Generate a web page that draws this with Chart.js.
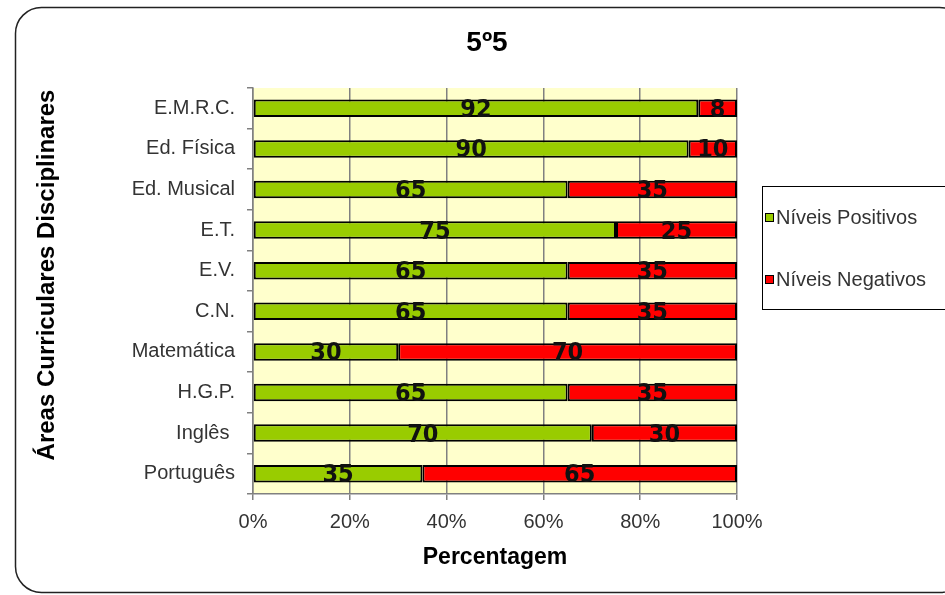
<!DOCTYPE html>
<html>
<head>
<meta charset="utf-8">
<script src="https://cdn.jsdelivr.net/npm/chart.js@4.4.1/dist/chart.umd.min.js"></script>
<style>
  html, body { margin: 0; padding: 0; background: #fff; }
  #wrap { width: 945px; height: 595px; }
</style>
</head>
<body>
<div id="wrap"><canvas id="chart" width="945" height="595"></canvas></div>
<script>
// data
var subjects = ['E.M.R.C.', 'Ed. Física', 'Ed. Musical', 'E.T.', 'E.V.', 'C.N.',
                'Matemática', 'H.G.P.', 'Inglês ', 'Português'];
var positivos = [92, 90, 65, 75, 65, 65, 30, 65, 70, 35];
var negativos = [8, 10, 35, 25, 35, 35, 70, 35, 30, 65];
var xTicks = [0, 20, 40, 60, 80, 100];

var chartTitle = '5º5';
var yTitle = 'Áreas Curriculares Disciplinares';
var xTitle = 'Percentagem';

var FONT = '"Liberation Sans", Arial, sans-serif';

// frame, plot background, titles, legend and value labels
var decor = {
  id: 'decor',
  beforeDraw: function (chart) {
    var ctx = chart.ctx, a = chart.chartArea;
    ctx.save();
    ctx.fillStyle = '#ffffff';
    ctx.fillRect(0, 0, chart.width, chart.height);
    ctx.beginPath();
    ctx.roundRect(15.5, 7.5, 950, 585, 26);
    ctx.lineWidth = 1.5;
    ctx.strokeStyle = '#222';
    ctx.stroke();
    ctx.fillStyle = '#FFFFCC';
    ctx.fillRect(a.left, a.top, a.right - a.left, a.bottom - a.top);
    ctx.restore();
  },
  afterDraw: function (chart) {
    var ctx = chart.ctx;
    ctx.save();
    // title
    ctx.fillStyle = '#000';
    ctx.font = 'bold 28px ' + FONT;
    ctx.textAlign = 'center';
    ctx.textBaseline = 'middle';
    ctx.fillText(chartTitle, 487, 43);
    // y axis title
    ctx.save();
    ctx.translate(47, 275);
    ctx.rotate(-Math.PI / 2);
    ctx.font = 'bold 24px ' + FONT;
    ctx.fillText(yTitle, 0, 0);
    ctx.restore();

    // legend
    ctx.lineWidth = 1;
    ctx.strokeStyle = '#000';
    ctx.strokeRect(762.5, 186.5, 185, 123);
    var ys = [217, 279];
    chart.data.datasets.forEach(function (ds, i) {
      ctx.fillStyle = ds.backgroundColor;
      ctx.fillRect(765, ys[i] - 4, 9, 9);
      ctx.strokeRect(765.5, ys[i] - 3.5, 8, 8);
      ctx.fillStyle = '#333';
      ctx.font = '20px ' + FONT;
      ctx.textAlign = 'left';
      ctx.fillText(ds.label, 776, ys[i] + 1);
    });

    // value labels, centred on each segment
    ctx.font = 'bold 25px "DejaVu Sans Condensed", "Liberation Sans Narrow", ' + FONT;
    ctx.textAlign = 'center';
    ctx.textBaseline = 'middle';
    ctx.fillStyle = '#111';
    chart.data.datasets.forEach(function (ds, i) {
      chart.getDatasetMeta(i).data.forEach(function (bar, j) {
        var cx = (bar.x + bar.base) / 2;
        ctx.fillText(String(ds.data[j]), cx, bar.y + 2);
      });
    });
    ctx.restore();
  }
};

new Chart(document.getElementById('chart'), {
  type: 'bar',
  data: {
    labels: subjects,
    datasets: [
      { label: 'Níveis Positivos', data: positivos, backgroundColor: '#99CC00',
        borderColor: '#000', borderWidth: 2, borderSkipped: false },
      { label: 'Níveis Negativos', data: negativos, backgroundColor: '#FF0000',
        borderColor: '#000', borderWidth: 2, borderSkipped: false }
    ]
  },
  options: {
    indexAxis: 'y',
    responsive: false,
    animation: false,
    devicePixelRatio: 1,
    layout: { padding: { left: 60, right: 208, top: 88, bottom: 20 } },
    datasets: { bar: { categoryPercentage: 1, barPercentage: 0.43 } },
    plugins: {
      legend: { display: false },
      title: { display: false },
      tooltip: { enabled: false }
    },
    scales: {
      x: {
        stacked: true,
        min: 0, max: 100,
        afterBuildTicks: function (scale) {
          scale.ticks = xTicks.map(function (v) { return { value: v }; });
        },
        afterFit: function (scale) { scale.height = 81; },
        ticks: {
          callback: function (v) { return v + '%'; },
          color: '#333', font: { family: FONT, size: 20 }, padding: 10,
          maxRotation: 0
        },
        grid: { color: '#808080', lineWidth: 1.5, tickLength: 6 },
        border: { color: '#808080', width: 1.5 },
        title: {
          display: true, text: xTitle, color: '#000', padding: { top: 0, bottom: 4 },
          font: { family: FONT, size: 23, weight: 'bold' }
        }
      },
      y: {
        stacked: true,
        afterFit: function (scale) { scale.width = 193; },
        ticks: { color: '#333', font: { family: FONT, size: 20 }, padding: 12 },
        grid: { offset: true, drawOnChartArea: false, color: '#808080', tickLength: 6, lineWidth: 1.5 },
        border: { color: '#808080', width: 1.5 }
      }
    }
  },
  plugins: [decor]
});
</script>
</body>
</html>
